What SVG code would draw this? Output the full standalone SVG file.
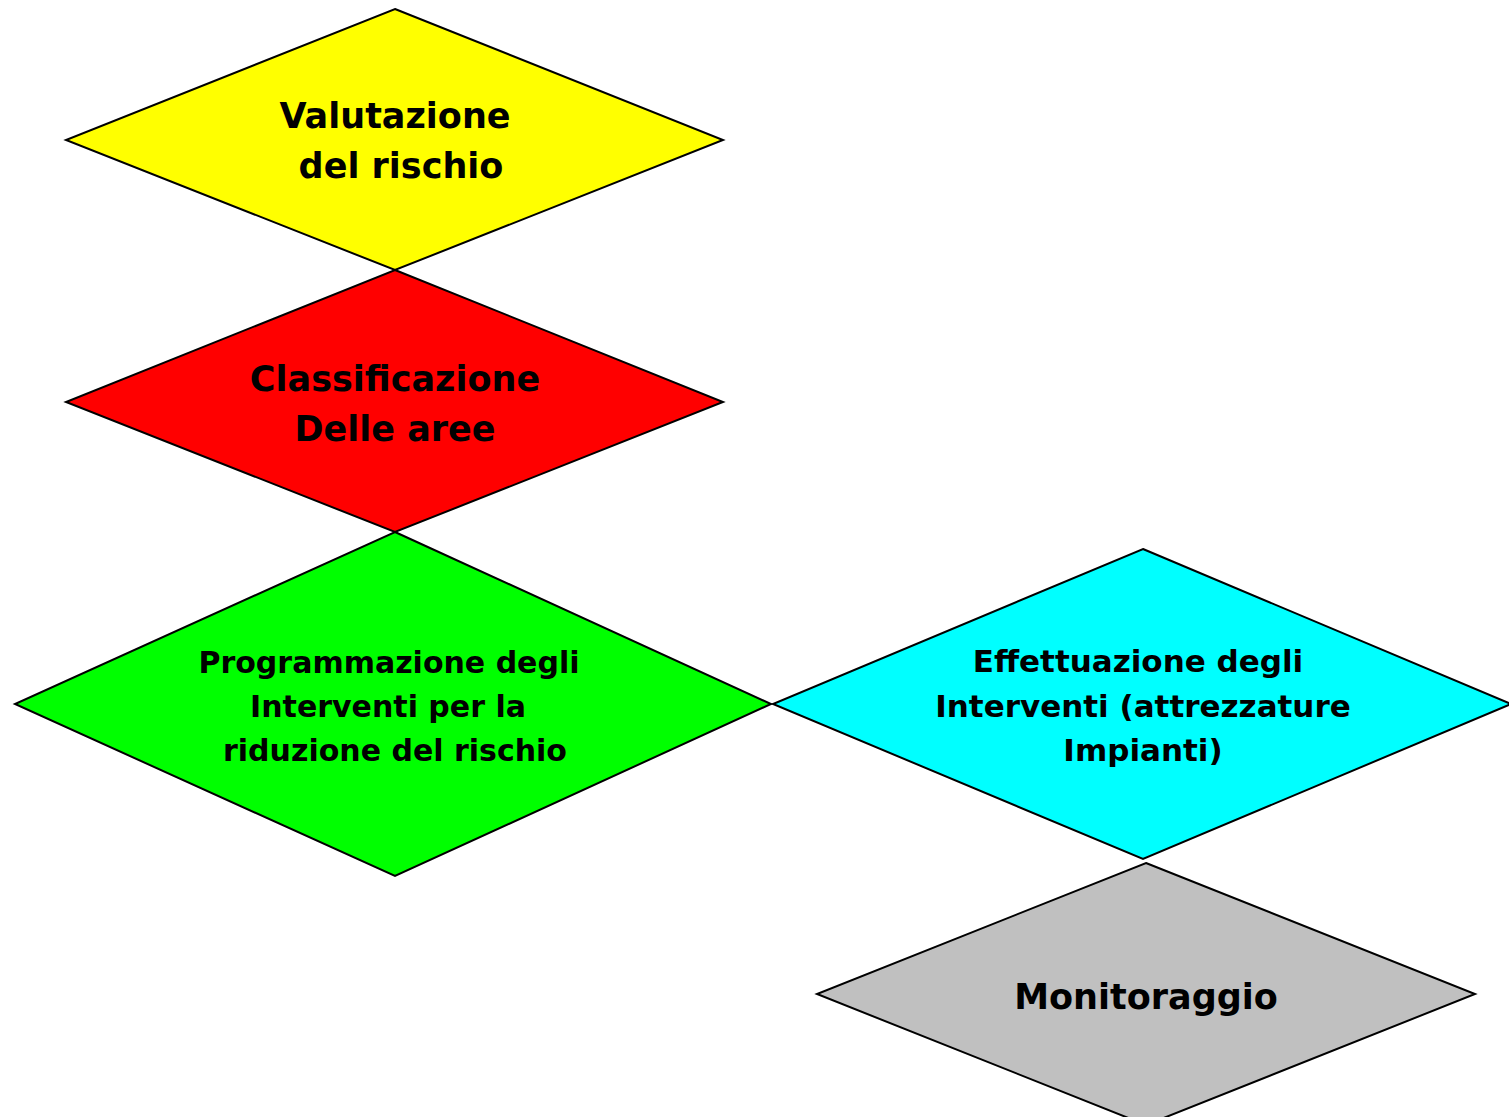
<svg xmlns="http://www.w3.org/2000/svg" width="1509" height="1117" viewBox="0 0 1509 1117">
<style>
.d{stroke:#000;stroke-width:2;stroke-linejoin:miter}
.t{font-family:"DejaVu Sans","Liberation Sans",sans-serif;font-weight:bold;fill:#000;text-anchor:middle}
.big{font-size:35px}
.sm{font-size:30px}
.sm2{font-size:31px}
</style>
<rect width="1509" height="1117" fill="#fff"/>
<g id="connectors"></g>
<g id="valutazione">
<polygon class="d" fill="#ffff00" points="395,9 723,140 395,270 66,140"/>
<text class="t big" x="395" y="128">Valutazione</text>
<text class="t big" x="401" y="178">del rischio</text>
</g>
<g id="classificazione">
<polygon class="d" fill="#ff0000" points="395,270 723,402 395,532 66,402"/>
<text class="t big" x="395" y="391">Classificazione</text>
<text class="t big" x="395" y="441">Delle aree</text>
</g>
<g id="programmazione">
<polygon class="d" fill="#00ff00" points="395,532 771,704 395,876 15,704"/>
<text class="t sm" x="389" y="673">Programmazione degli</text>
<text class="t sm" x="388" y="717">Interventi per la</text>
<text class="t sm" x="395" y="761">riduzione del rischio</text>
</g>
<g id="effettuazione">
<polygon class="d" fill="#00ffff" points="1143,549 1511,704 1143,859 773,704"/>
<text class="t sm2" x="1138" y="672">Effettuazione degli</text>
<text class="t sm2" x="1143" y="717">Interventi (attrezzature</text>
<text class="t sm2" x="1143" y="761">Impianti)</text>
</g>
<g id="monitoraggio">
<polygon class="d" fill="#c0c0c0" points="1146,863 1475,994 1146,1125 817,994"/>
<text class="t big" x="1146" y="1009">Monitoraggio</text>
</g>
</svg>
